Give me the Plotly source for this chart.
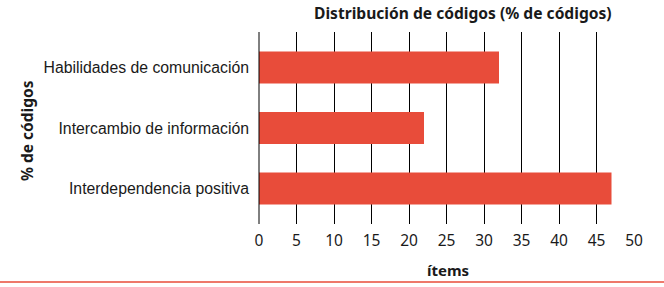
import plotly.graph_objects as go

categories = ["Habilidades de comunicación", "Intercambio de información", "Interdependencia positiva"]
values = [32, 22, 47]
x_ticks = [0, 5, 10, 15, 20, 25, 30, 35, 40, 45, 50]

W, H = 664, 287
L, R, T, B = 259, 30, 32, 63

fig = go.Figure(go.Bar(
    y=categories, x=values, orientation="h",
    marker=dict(color="#E84C3A", line=dict(width=0)),
    width=0.53,
    hoverinfo="skip",
))

fig.update_layout(
    width=W, height=H,
    margin=dict(l=L, r=R, t=T, b=B),
    plot_bgcolor="white", paper_bgcolor="white",
    showlegend=False,
    font=dict(family="Liberation Sans, Arial, sans-serif", color="#1a1a1a"),
    xaxis=dict(
        range=[0, 50], tickvals=x_ticks, ticktext=[str(v) for v in x_ticks],
        showgrid=True, gridcolor="black", gridwidth=1,
        zeroline=False, showline=False, ticks="",
        tickfont=dict(family="Noto Sans, sans-serif", size=15.5, color="#1a1a1a"),
        ticklabelstandoff=5,
        fixedrange=True,
    ),
    yaxis=dict(
        categoryorder="array", categoryarray=categories,
        autorange=False, range=[2.587, -0.587],
        showgrid=False, zeroline=False, showline=False, ticks="",
        tickfont=dict(family="Liberation Sans, Arial, sans-serif", size=15.8, color="#1a1a1a"),
        ticklabelstandoff=9,
        fixedrange=True,
    ),
    shapes=[
        dict(type="line", xref="paper", yref="paper", x0=0, x1=0, y0=0, y1=1,
             line=dict(color="black", width=1)),
        dict(type="line", xref="paper", yref="paper",
             x0=-L / (W - L - R), x1=(W - L) / (W - L - R),
             y0=-(282 - (H - B)) / (H - T - B), y1=-(282 - (H - B)) / (H - T - B),
             line=dict(color="#E84C3A", width=1.5)),
    ],
    annotations=[
        dict(text="<b>Distribución de códigos (% de códigos)</b>", xref="paper", yref="paper",
             x=(463 - L) / (W - L - R), y=1 + (T - 13) / (H - T - B),
             xanchor="center", yanchor="middle", showarrow=False,
             font=dict(family="Noto Sans, sans-serif", size=15.6, color="#1a1a1a")),
        dict(text="<b>ítems</b>", xref="paper", yref="paper",
             x=(448 - L) / (W - L - R), y=-(270 - (H - B)) / (H - T - B),
             xanchor="center", yanchor="middle", showarrow=False,
             font=dict(family="Noto Sans, sans-serif", size=15, color="#1a1a1a")),
        dict(text="<b>% de códigos</b>", xref="paper", yref="paper",
             x=-(L - 27) / (W - L - R), y=((H - B) - 131) / (H - T - B),
             xanchor="center", yanchor="middle", showarrow=False, textangle=-90,
             font=dict(family="Noto Sans, sans-serif", size=15.5, color="#1a1a1a")),
    ],
)

fig.write_html(
    "out.html",
    config={"displayModeBar": False, "staticPlot": True},
    post_script="document.body.style.margin='0';document.body.style.overflow='hidden';",
)
